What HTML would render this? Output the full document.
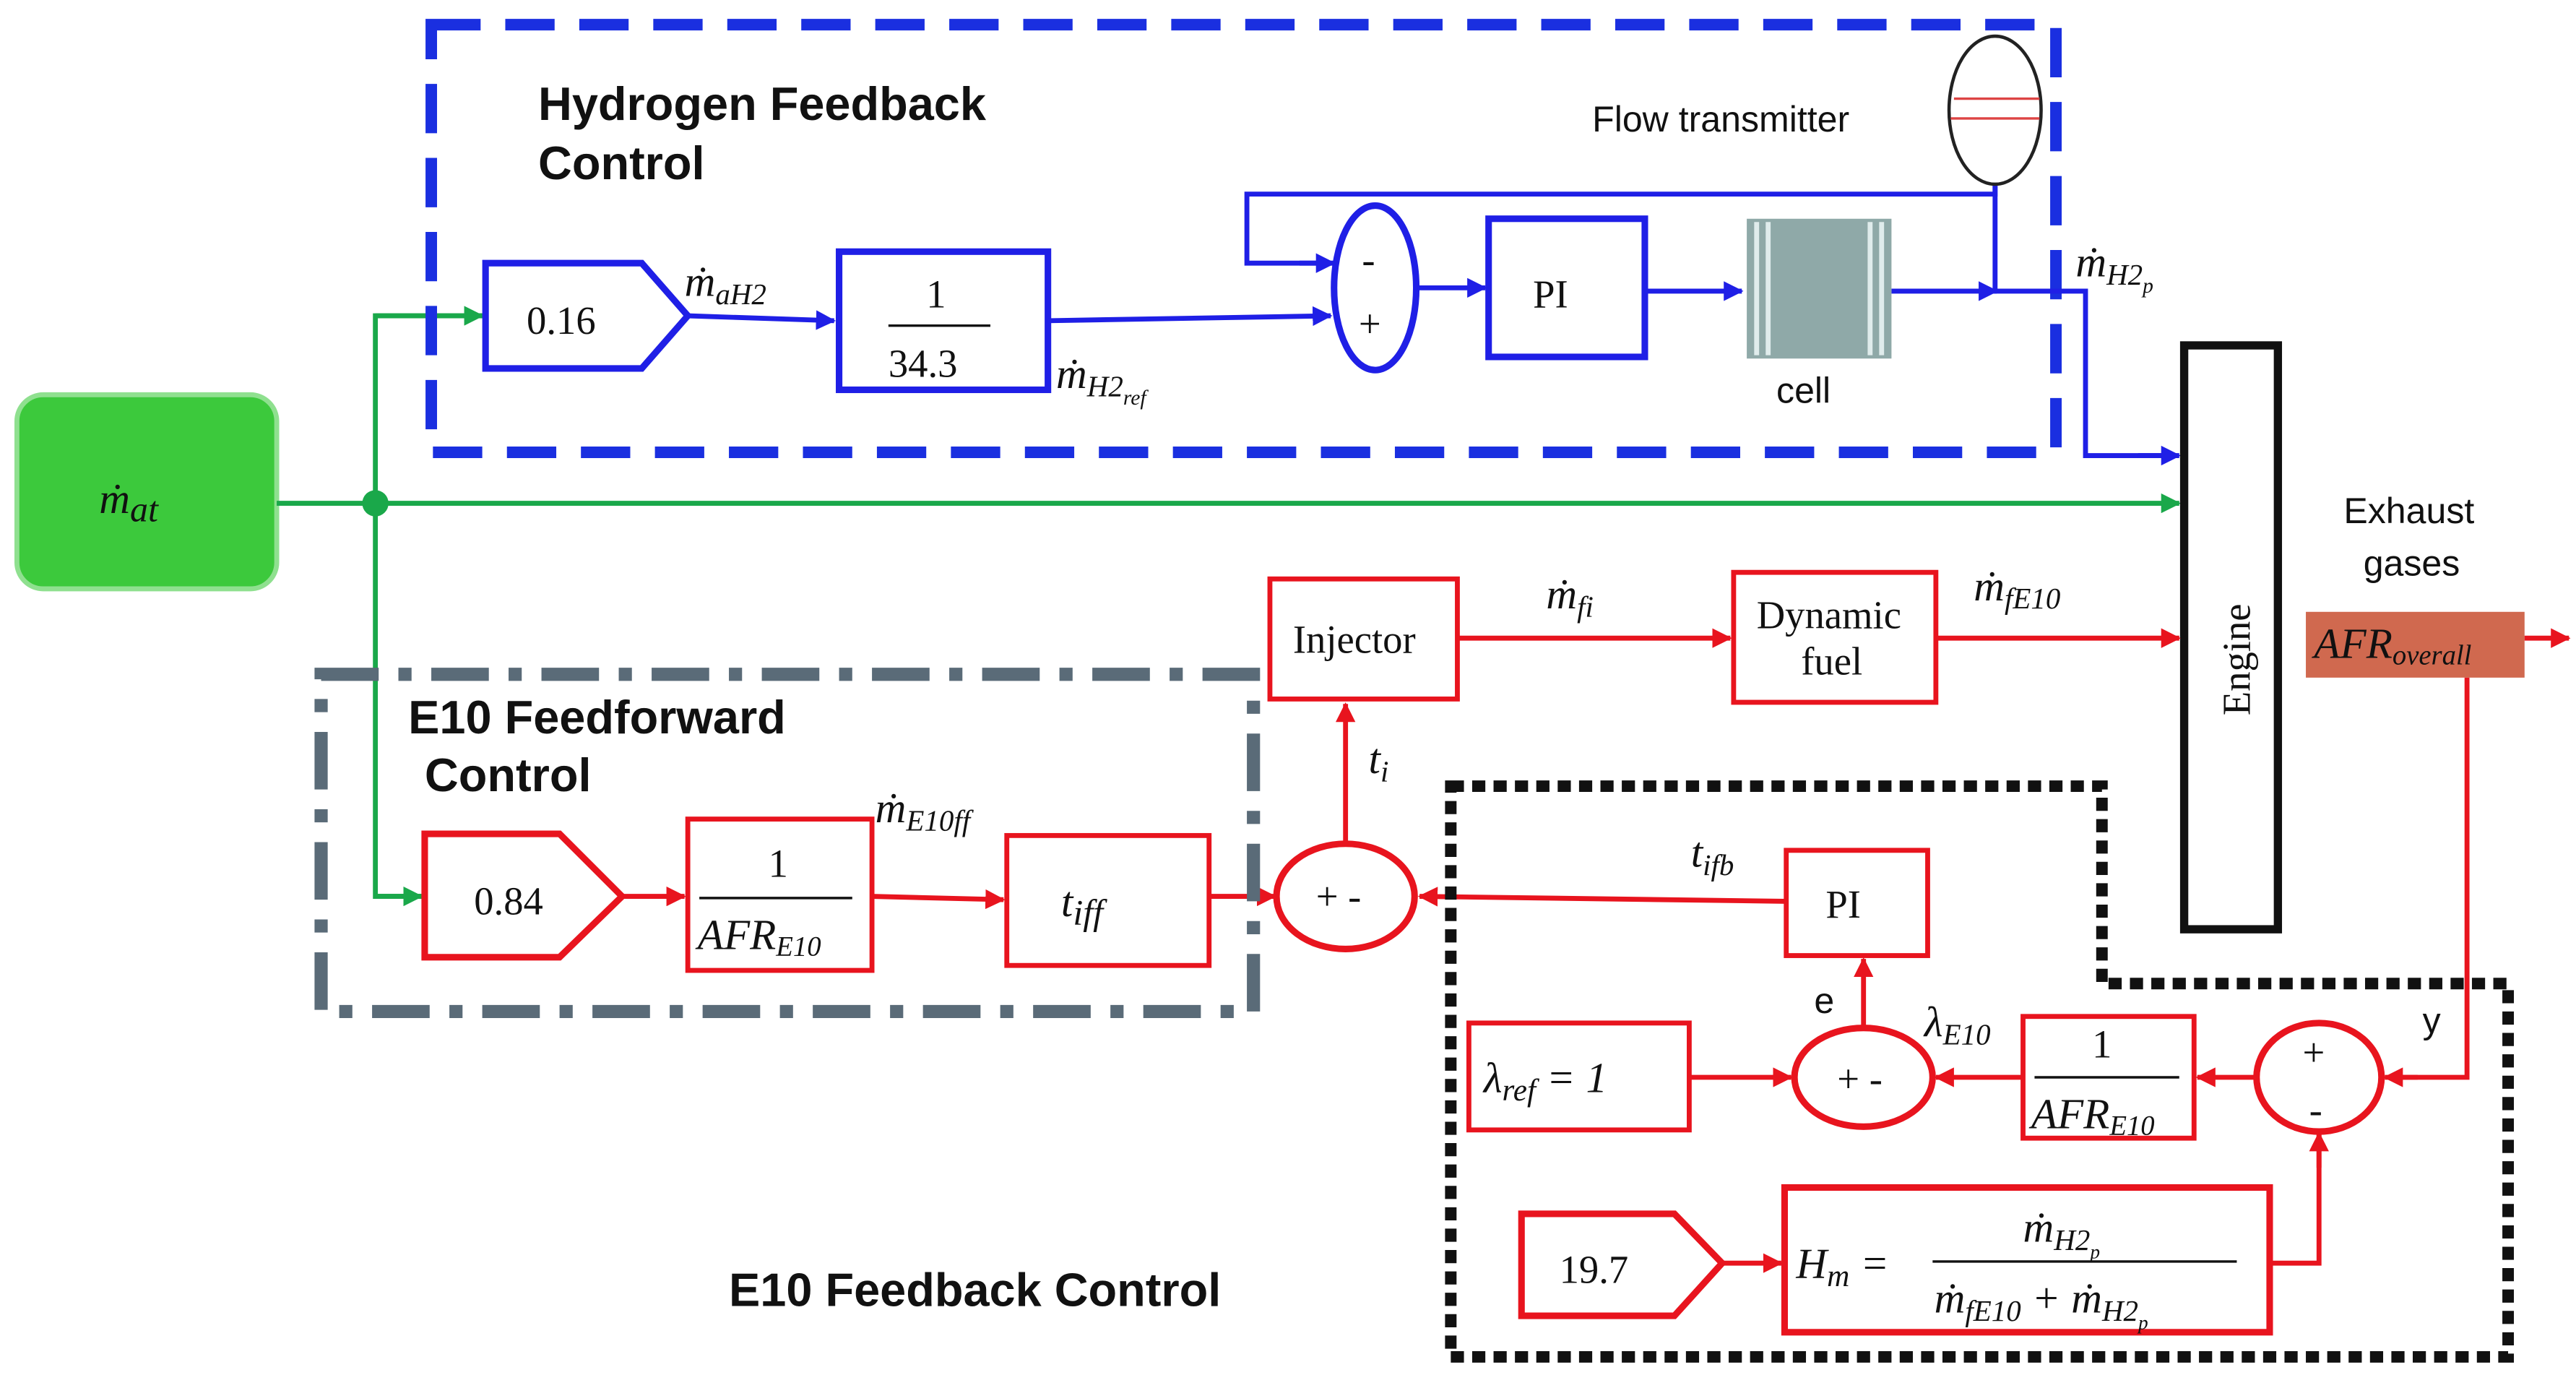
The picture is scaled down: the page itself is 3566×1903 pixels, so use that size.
<!DOCTYPE html>
<html><head><meta charset="utf-8"><style>
html,body{margin:0;padding:0;background:#fff;}
svg{display:block}
.s{font-family:"Liberation Sans",sans-serif;font-weight:bold;font-size:28.5px;fill:#111}
.n{font-family:"Liberation Sans",sans-serif;font-size:22px;fill:#111}
.m{font-family:"Liberation Serif",serif;font-style:italic;font-size:26px;fill:#111}
.r{font-family:"Liberation Serif",serif;font-size:24px;fill:#111}
</style></head><body>
<svg width="3566" height="1903" viewBox="0 0 1566 836" xmlns="http://www.w3.org/2000/svg">
<defs>
<marker id="ar" markerWidth="12" markerHeight="12" refX="11" refY="6" orient="auto" markerUnits="userSpaceOnUse"><path d="M0,0 L12,6 L0,12z" fill="#e8141e"/></marker>
<marker id="ag" markerWidth="12" markerHeight="12" refX="11" refY="6" orient="auto" markerUnits="userSpaceOnUse"><path d="M0,0 L12,6 L0,12z" fill="#1aa84a"/></marker>
<marker id="ab2" markerWidth="12" markerHeight="12" refX="11" refY="6" orient="auto" markerUnits="userSpaceOnUse"><path d="M0,0 L12,6 L0,12z" fill="#1f1fe6"/></marker>
</defs>
<rect width="1566" height="836" fill="#fff"/>

<rect x="10" y="240" width="158" height="118" rx="16" fill="#3cc93c" stroke="#8fe08f" stroke-width="3"/>
<text class="m" x="60" y="312" font-size="28">ṁ<tspan font-size="22" dy="5">at</tspan></text>
<g stroke="#1aa84a" stroke-width="3" fill="none">
<line x1="168" y1="306" x2="1325" y2="306" marker-end="url(#ag)"/>
<polyline points="295,192 228,192 228,545 258,545" />
<line x1="228" y1="192" x2="293" y2="192" marker-end="url(#ag)"/>
<line x1="228" y1="545" x2="256" y2="545" marker-end="url(#ag)"/>
</g>
<circle cx="228" cy="306" r="8" fill="#1aa84a"/>

<rect x="262" y="15" width="988" height="260" fill="none" stroke="#1a2fe0" stroke-width="7" stroke-dasharray="30,15"/>
<text class="s" x="327" y="73">Hydrogen Feedback</text>
<text class="s" x="327" y="109">Control</text>
<text class="n" x="968" y="80" font-size="25">Flow transmitter</text>

<g stroke="#1f1fe6" stroke-width="3" fill="none">
<polygon points="295,160 390,160 418,192 390,224 295,224" stroke-width="4"/>
<line x1="418" y1="192" x2="507" y2="195" marker-end="url(#ab2)"/>
<rect x="510" y="153" width="127" height="84" stroke-width="4"/>
<line x1="637" y1="195" x2="809" y2="192" marker-end="url(#ab2)"/>
<ellipse cx="836" cy="175" rx="25" ry="50" stroke-width="4"/>
<polyline points="1213,112 1213,118 758,118 758,160 809,160" />
<line x1="790" y1="160" x2="811" y2="160" marker-end="url(#ab2)"/>
<line x1="862" y1="175" x2="903" y2="175" marker-end="url(#ab2)"/>
<rect x="905" y="133" width="95" height="84" stroke-width="4"/>
<line x1="1000" y1="177" x2="1059" y2="177" marker-end="url(#ab2)"/>
<line x1="1150" y1="177" x2="1214" y2="177" marker-end="url(#ab2)"/>
<polyline points="1213,112 1213,177 1268,177 1268,277 1323,277"/>
<line x1="1300" y1="277" x2="1325" y2="277" marker-end="url(#ab2)"/>
</g>
<text class="r" x="320" y="203" font-size="28">0.16</text>
<text class="m" x="416" y="180">ṁ<tspan font-size="18" dy="5">aH2</tspan></text>
<text class="r" x="563" y="187" font-size="28">1</text>
<line x1="540" y1="198" x2="602" y2="198" stroke="#111" stroke-width="1.5"/>
<text class="r" x="540" y="229" font-size="28">34.3</text>
<text class="m" x="642" y="236">ṁ<tspan font-size="18" dy="5">H2</tspan><tspan font-size="13" dy="5">ref</tspan></text>
<text class="r" x="828" y="166" font-size="26">-</text>
<text class="r" x="826" y="205" font-size="26">+</text>
<text class="r" x="932" y="187" font-size="30">PI</text>
<rect x="1062" y="133" width="88" height="85" fill="#8fa9a8"/>
<g stroke="#e0ecec" stroke-width="3"><line x1="1068" y1="135" x2="1068" y2="216"/><line x1="1144" y1="135" x2="1144" y2="216"/><line x1="1075" y1="135" x2="1075" y2="216"/><line x1="1137" y1="135" x2="1137" y2="216"/></g>
<text class="n" x="1080" y="245" font-size="20">cell</text>
<ellipse cx="1213" cy="67" rx="28" ry="45" fill="#fff" stroke="#222" stroke-width="2"/>
<line x1="1188" y1="60" x2="1240" y2="60" stroke="#d44" stroke-width="1.5"/>
<line x1="1186" y1="72" x2="1240" y2="72" stroke="#d44" stroke-width="1.5"/>
<text class="m" x="1262" y="168">ṁ<tspan font-size="18" dy="5">H2</tspan><tspan font-size="13" dy="5">p</tspan></text>

<rect x="1328" y="210" width="57" height="355" fill="#fff" stroke="#111" stroke-width="5"/>
<text class="r" x="0" y="0" font-size="30" transform="translate(1368,435) rotate(-90)">Engine</text>
<text class="n" x="1425" y="318" font-size="24">Exhaust</text>
<text class="n" x="1437" y="350" font-size="24">gases</text>
<rect x="1402" y="372" width="133" height="40" fill="#d0694f"/>
<text class="m" x="1407" y="400" font-size="22" fill="#fde">AFR<tspan font-size="17" dy="4">overall</tspan></text>

<g stroke="#e8141e" stroke-width="3" fill="none">
<line x1="1535" y1="388" x2="1562" y2="388" marker-end="url(#ar)"/>
<polyline points="1500,412 1500,655 1460,655"/>
<line x1="1470" y1="655" x2="1450" y2="655" marker-end="url(#ar)"/>
<rect x="772" y="352" width="114" height="73"/>
<line x1="886" y1="388" x2="1052" y2="388" marker-end="url(#ar)"/>
<rect x="1054" y="348" width="123" height="79"/>
<line x1="1177" y1="388" x2="1325" y2="388" marker-end="url(#ar)"/>
<polygon points="258,507 340,507 378,545 340,582 258,582" stroke-width="4"/>
<line x1="378" y1="545" x2="416" y2="545" marker-end="url(#ar)"/>
<rect x="418" y="498" width="112" height="92"/>
<line x1="530" y1="545" x2="610" y2="547" marker-end="url(#ar)"/>
<rect x="612" y="508" width="123" height="79"/>
<line x1="735" y1="545" x2="775" y2="545" marker-end="url(#ar)"/>
<ellipse cx="818" cy="545" rx="42" ry="32" stroke-width="4"/>
<line x1="818" y1="513" x2="818" y2="428" marker-end="url(#ar)"/>
<rect x="1086" y="517" width="86" height="64"/>
<line x1="1086" y1="548" x2="863" y2="545" marker-end="url(#ar)"/>
<ellipse cx="1133" cy="655" rx="42" ry="30" stroke-width="4"/>
<line x1="1133" y1="625" x2="1133" y2="583" marker-end="url(#ar)"/>
<rect x="893" y="622" width="134" height="65"/>
<line x1="1027" y1="655" x2="1089" y2="655" marker-end="url(#ar)"/>
<rect x="1230" y="618" width="104" height="74"/>
<line x1="1230" y1="655" x2="1177" y2="655" marker-end="url(#ar)"/>
<ellipse cx="1410" cy="655" rx="38" ry="33" stroke-width="4"/>
<line x1="1372" y1="655" x2="1336" y2="655" marker-end="url(#ar)"/>
<polygon points="925,738 1018,738 1047,768 1018,800 925,800" stroke-width="4"/>
<line x1="1047" y1="768" x2="1083" y2="768" marker-end="url(#ar)"/>
<rect x="1085" y="722" width="295" height="88" stroke-width="4"/>
<polyline points="1380,768 1410,768 1410,690"/>
<line x1="1410" y1="710" x2="1410" y2="689" marker-end="url(#ar)"/>
</g>
<text class="r" x="786" y="397" font-size="23">Injector</text>
<text class="m" x="940" y="370">ṁ<tspan font-size="18" dy="5">fi</tspan></text>
<text class="r" x="1068" y="382" font-size="23">Dynamic</text>
<text class="r" x="1095" y="410" font-size="23">fuel</text>
<text class="m" x="1200" y="365">ṁ<tspan font-size="18" dy="5">fE10</tspan></text>

<rect x="195" y="410" width="567" height="205" fill="none" stroke="#5a6b78" stroke-width="8" stroke-dasharray="35,12,8,12"/>
<text class="s" x="248" y="446">E10 Feedforward</text>
<text class="s" x="258" y="481">Control</text>
<text class="r" x="288" y="556" font-size="28">0.84</text>
<text class="r" x="467" y="533" font-size="26">1</text>
<line x1="425" y1="546" x2="518" y2="546" stroke="#111" stroke-width="1.5"/>
<text class="m" x="424" y="577" font-size="24">AFR<tspan font-size="17" dy="4">E10</tspan></text>
<text class="m" x="532" y="500">ṁ<tspan font-size="18" dy="5">E10ff</tspan></text>
<text class="m" x="645" y="557" font-size="30">t<tspan font-size="22" dy="5">iff</tspan></text>
<text class="r" x="800" y="553" font-size="24">+ -</text>
<text class="m" x="832" y="470">t<tspan font-size="18" dy="5">i</tspan></text>

<polygon points="882,478 1278,478 1278,598 1525,598 1525,825 882,825" fill="none" stroke="#111" stroke-width="7" stroke-dasharray="8,5"/>
<text class="r" x="1110" y="558" font-size="30">PI</text>
<text class="m" x="1028" y="527">t<tspan font-size="18" dy="5">ifb</tspan></text>
<text class="r" x="1117" y="664" font-size="24">+ -</text>
<text class="n" x="1103" y="616">e</text>
<text class="m" x="902" y="664" font-size="28">λ<tspan font-size="19" dy="5">ref</tspan><tspan dy="-5"> = 1</tspan></text>
<text class="m" x="1170" y="630">λ<tspan font-size="18" dy="5">E10</tspan></text>
<text class="r" x="1272" y="643" font-size="26">1</text>
<line x1="1237" y1="655" x2="1325" y2="655" stroke="#111" stroke-width="1.5"/>
<text class="m" x="1235" y="686" font-size="24">AFR<tspan font-size="17" dy="4">E10</tspan></text>
<text class="r" x="1400" y="648" font-size="24">+</text>
<text class="r" x="1404" y="683" font-size="24">-</text>
<text class="n" x="1473" y="628" font-size="24">y</text>
<text class="r" x="948" y="780" font-size="28">19.7</text>
<text class="m" x="1092" y="777" font-size="28">H<tspan font-size="19" dy="5">m</tspan><tspan dy="-5"> =</tspan></text>
<text class="m" x="1230" y="755" font-size="25">ṁ<tspan font-size="18" dy="5">H2</tspan><tspan font-size="12" dy="5">p</tspan></text>
<line x1="1175" y1="767" x2="1360" y2="767" stroke="#111" stroke-width="1.5"/>
<text class="m" x="1176" y="798" font-size="25">ṁ<tspan font-size="18" dy="5">fE10</tspan><tspan dy="-5"> + ṁ</tspan><tspan font-size="18" dy="5">H2</tspan><tspan font-size="12" dy="5">p</tspan></text>
<text class="s" x="443" y="794">E10 Feedback Control</text>
</svg>
</body></html>
